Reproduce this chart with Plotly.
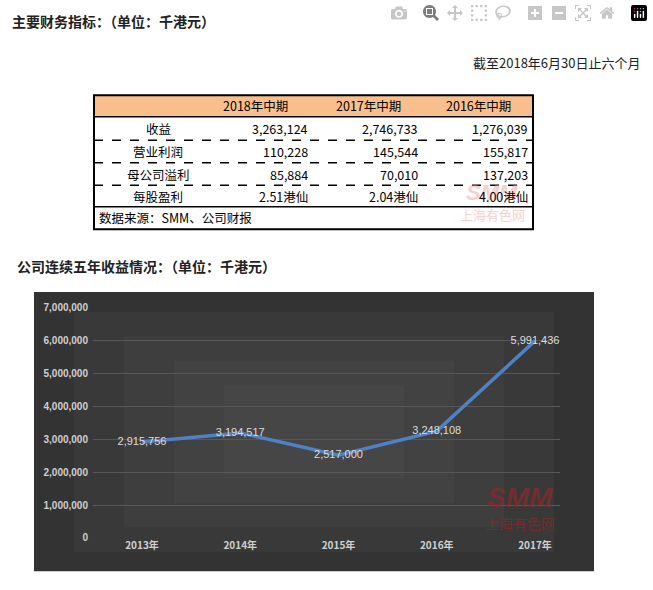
import plotly.graph_objects as go

W, H = 653, 590
years = ["2013年", "2014年", "2015年", "2016年", "2017年"]
revenue = [2915756, 3194517, 2517000, 3248108, 5991436]
y_ticks = [0, 1000000, 2000000, 3000000, 4000000, 5000000, 6000000, 7000000]

tbl_header = ["", "2018年中期", "2017年中期", "2016年中期"]
tbl_labels = ["收益", "营业利润", "母公司溢利", "每股盈利"]
tbl_2018 = ["3,263,124", "110,228", "85,884", "2.51港仙"]
tbl_2017 = ["2,746,733", "145,544", "70,010", "2.04港仙"]
tbl_2016 = ["1,276,039", "155,817", "137,203", "4.00港仙"]
tbl_source = "数据来源：SMM、公司财报"

px = lambda x: x / W
py = lambda y: 1 - y / H

FONT = "Noto Sans CJK SC"
fig = go.Figure()
fig.add_trace(go.Scatter(
    x=years, y=revenue, mode="lines+text",
    line=dict(color="#4f81c4", width=3.5),
    text=[f"{v:,}" for v in revenue], textposition="middle center",
    textfont=dict(color="#dcdcdc", size=11, family="Liberation Sans"),
    cliponaxis=False, hoverinfo="skip"))

shapes, ann = [], []
# chart background with soft radial-ish gradient
shapes.append(dict(type="rect", xref="paper", yref="paper", x0=px(34), x1=px(594), y0=py(577), y1=py(292),
                   fillcolor="#333333", line=dict(width=0), layer="below"))
for k, (dx, dy) in enumerate([(40, 20), (90, 45), (140, 70), (190, 95)]):
    shapes.append(dict(type="rect", xref="paper", yref="paper", x0=px(34 + dx), x1=px(594 - dx),
                       y0=py(577 - dy), y1=py(292 + dy),
                       fillcolor="#5a5a5a", line=dict(width=0), layer="below", opacity=0.18))
# table
tx0, tx1 = 94, 533
rows = [91, 113, 137, 160, 183, 205, 228]
shapes.append(dict(type="rect", xref="paper", yref="paper", x0=px(tx0), x1=px(tx1), y0=py(113), y1=py(91),
                   fillcolor="#f8bf8d", line=dict(width=0)))
shapes.append(dict(type="rect", xref="paper", yref="paper", x0=px(tx0), x1=px(tx1), y0=py(228), y1=py(91),
                   line=dict(color="black", width=2)))
for r in (113, 205):
    shapes.append(dict(type="line", xref="paper", yref="paper", x0=px(tx0), x1=px(tx1), y0=py(r), y1=py(r),
                       line=dict(color="black", width=1.5)))
for r in rows[2:5]:
    shapes.append(dict(type="line", xref="paper", yref="paper", x0=px(tx0), x1=px(tx1), y0=py(r), y1=py(r),
                       line=dict(color="black", width=1.5, dash="dash")))
shapes.append(dict(type="line", xref="paper", yref="paper", x0=px(634), x1=px(634), y0=py(0), y1=py(14),
                   line=dict(color="#333", width=1.5)))

def a(x, y, t, size=12, color="black", xanchor="center", bold=False, font=FONT, opacity=1):
    ann.append(dict(x=px(x), y=py(y), xref="paper", yref="paper", text=f"<b>{t}</b>" if bold else t,
                    showarrow=False, xanchor=xanchor, yanchor="middle",
                    font=dict(size=size, color=color, family=font), opacity=opacity))

# watermarks first (behind text)
a(492, 190, "<b><i>SMM</i></b>", 22, "#f4a0a0", opacity=0.5, font="Liberation Sans")
a(492, 213, "上海有色网", 13, "#f4a0a0", opacity=0.5)
a(520, 502, "<b><i>SMM</i></b>", 28, "#8a2a2a", opacity=0.7, font="Liberation Sans")
a(520, 528, "上海有色网", 14, "#8a2a2a", opacity=0.7)

a(10, 15, "主要财务指标：（单位：千港元）", 14, "#222", "left", True)
a(643, 58, "截至2018年6月30日止六个月", 13, "#222", "right")
a(15, 265, "公司连续五年收益情况：（单位：千港元）", 14, "#222", "left", True)

hc = [255, 368, 478]
for i in range(1, 4):
    a(hc[i - 1], 102, tbl_header[i], 12.5)
rc = [(rows[i] + rows[i + 1]) / 2 for i in range(1, 5)]
for i, lab in enumerate(tbl_labels):
    a(158, rc[i], lab, 12.5)
    a(310, rc[i], tbl_2018[i], 12.5, xanchor="right")
    a(420, rc[i], tbl_2017[i], 12.5, xanchor="right")
    a(530, rc[i], tbl_2016[i], 12.5, xanchor="right")
a(97, 216, tbl_source, 12.5, xanchor="left")

s = (535 - 142) / 4
r0 = -(142 - 93) / s
r1 = r0 + (560 - 93) / s
fig.update_layout(
    width=W, height=H, margin=dict(l=0, r=0, t=0, b=0),
    paper_bgcolor="white", plot_bgcolor="rgba(0,0,0,0)", showlegend=False,
    shapes=shapes, annotations=ann,
    xaxis=dict(domain=[px(93), px(560)], range=[r0, r1], showgrid=False, zeroline=False,
               tickfont=dict(color="#d0d0d0", size=10, family=FONT, weight="bold"), ticks="", showline=False),
    yaxis=dict(domain=[py(543), py(308)], range=[0, 7000000], tickvals=y_ticks,
               ticktext=[f"{v:,}" for v in y_ticks], gridcolor="#585858", gridwidth=1, zeroline=False,
               tickfont=dict(color="#d0d0d0", size=10, family="Liberation Sans", weight="bold"), ticks="",
               ticklabelstandoff=4),
)
fig.write_html("out.html", post_script="document.body.style.margin='0';document.body.style.overflow='hidden';")
